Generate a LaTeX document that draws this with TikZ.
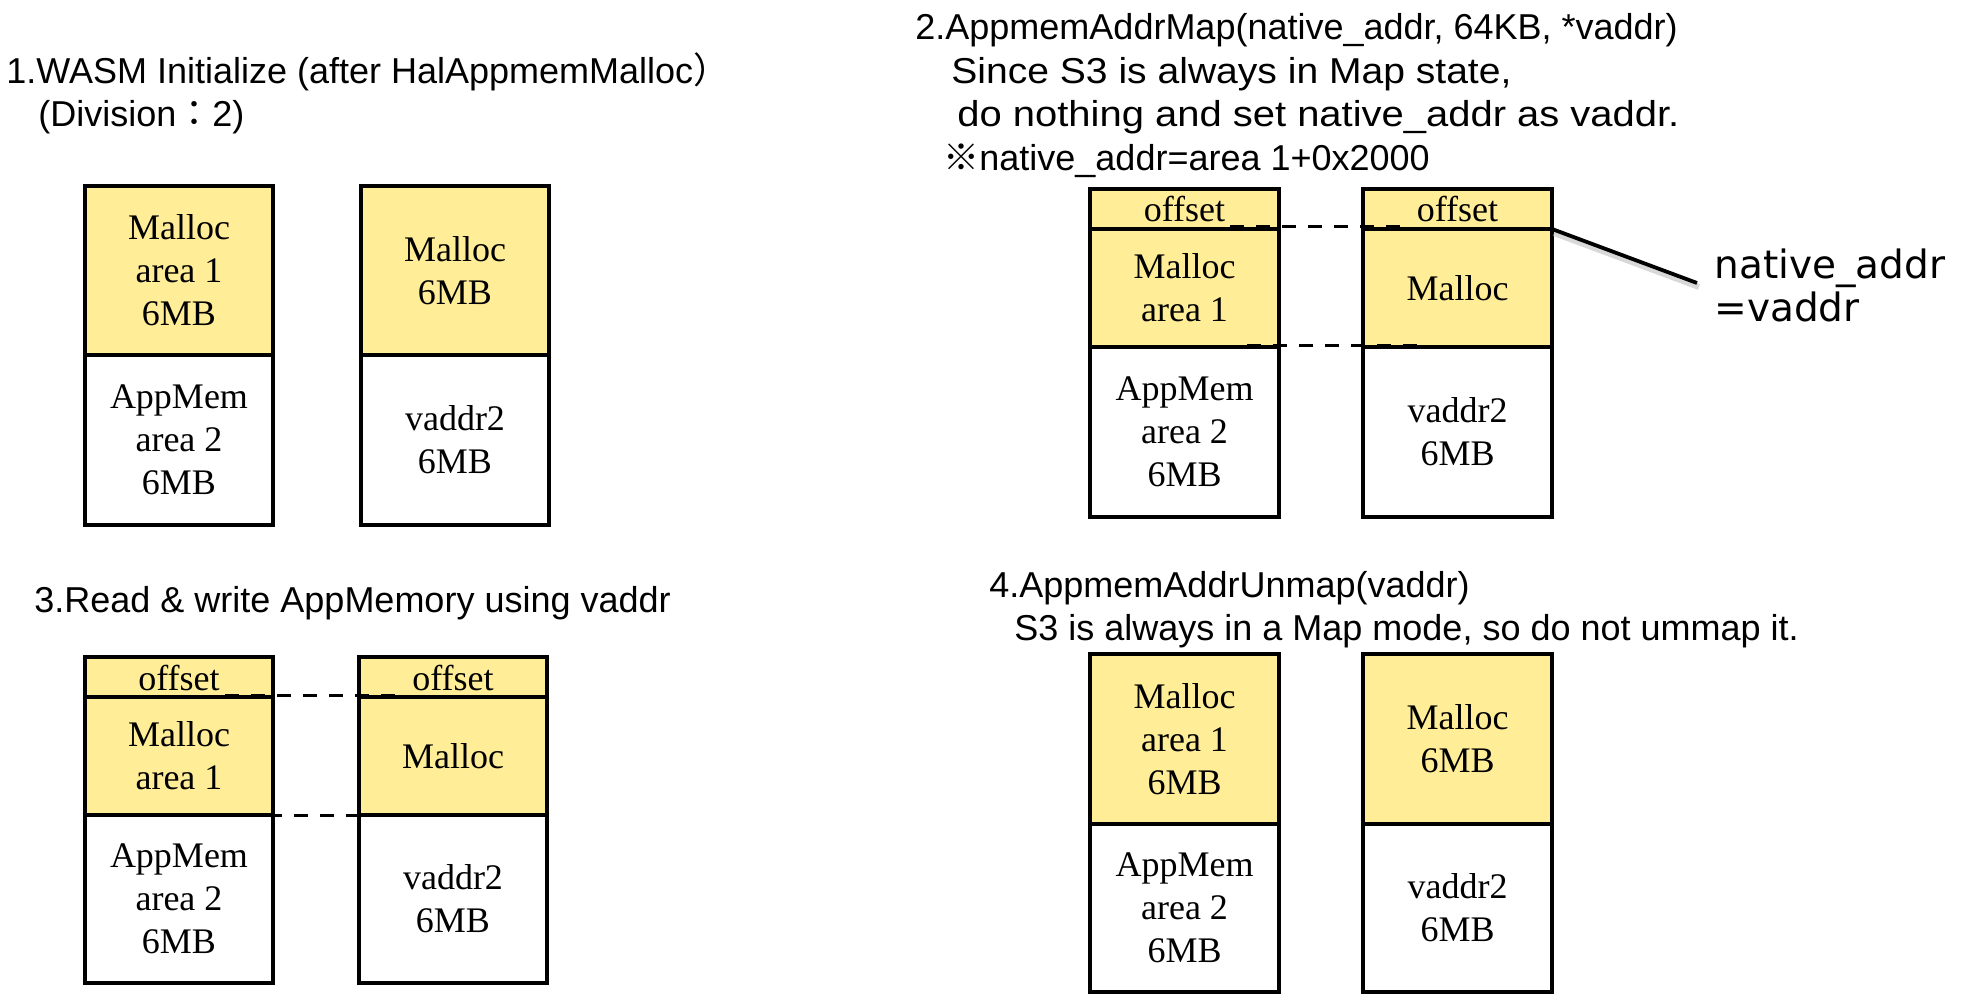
\documentclass[tikz,border=0pt]{standalone}
\usepackage{fontspec}
\usepackage{graphicx}
\setmainfont{Liberation Serif}
\newfontfamily\arial{Liberation Sans}
\newfontfamily\dvs{DejaVu Sans}
\newfontfamily\cjk{Noto Sans CJK JP}
\definecolor{memyel}{RGB}{255,237,151}
\begin{document}
\begin{tikzpicture}[x=0.5pt,y=-0.5pt,
  title/.style={font=\arial\fontsize{18}{21.5}\selectfont, anchor=base west, inner sep=0pt},
  boxtxt/.style={font=\fontsize{18}{21.5}\selectfont, align=center, inner sep=0pt},
  memline/.style={line width=1.8pt, line join=miter},
  dashln/.style={line width=1.5pt, dash pattern=on 7pt off 6pt},
  lbl/.style={font=\dvs\fontsize{19.5}{21}\selectfont, anchor=base west, inner sep=0pt}]
\fill[white] (0,0) rectangle (1974,994);
\useasboundingbox (0,0) rectangle (1974,994);

% ---------- titles ----------
\node[title] (t1a) at (6,84) {1.WASM Initialize (after HalAppmemMalloc{\cjk ）}};
\node[title] (t1b) at (38,127) {(Division{\cjk ：}2)};
\node[title] (t3) at (34,612) {3.Read \& write AppMemory using vaddr};
\node[title] (t2a) at (915,40) {2.AppmemAddrMap(native\_addr, 64KB, *vaddr)};
\node[title] (t2b) at (951,83.5) {\scalebox{1.085}[1]{Since S3 is always in Map state,}};
\node[title] (t2c) at (957,127) {\scalebox{1.11}[1]{do nothing and set native\_addr as vaddr.}};
\node[title] (t2d) at (943,170.5) {{\cjk ※}native\_addr=area 1+0x2000};
\node[title] (t4a) at (989,597) {4.AppmemAddrUnmap(vaddr)};
\node[title] (t4b) at (1014,640) {S3 is always in a Map mode, so do not ummap it.};

% ---------- diagram 1 ----------
\fill[memyel] (85,186) rectangle (273,355);
\fill[memyel] (361,186) rectangle (549,355);
\draw[memline] (85,186) rectangle (273,525) (85,355) -- (273,355);
\draw[memline] (361,186) rectangle (549,525) (361,355) -- (549,355);
\node[boxtxt] (d1a) at (179,270.5) {Malloc\\area 1\\6MB};
\node[boxtxt] (d1b) at (179,440) {AppMem\\area 2\\6MB};
\node[boxtxt] (d1c) at (455,270.5) {Malloc\\6MB};
\node[boxtxt] (d1d) at (455,440) {vaddr2\\6MB};

% ---------- diagram 3 ----------
\fill[memyel] (85,657) rectangle (273,815);
\fill[memyel] (359,657) rectangle (547,815);
\draw[memline] (85,657) rectangle (273,983) (85,697) -- (273,697) (85,815) -- (273,815);
\draw[memline] (359,657) rectangle (547,983) (359,697) -- (547,697) (359,815) -- (547,815);
\node[boxtxt, anchor=base] (d3o1) at (179,690) {offset};
\node[boxtxt, anchor=base] (d3o2) at (453,690) {offset};
\node[boxtxt] (d3a) at (179,756) {Malloc\\area 1};
\node[boxtxt] (d3c) at (453,756) {Malloc};
\node[boxtxt] (d3b) at (179,899) {AppMem\\area 2\\6MB};
\node[boxtxt] (d3d) at (453,899) {vaddr2\\6MB};
\coordinate (d3u1) at (225,695);
\coordinate (d3u2) at (402,695);
\coordinate (d3l1) at (242,815);
\coordinate (d3l2) at (419,815);
\draw[dashln] (d3u1) -- (d3u2);
\draw[dashln] (d3l1) -- (d3l2);

% ---------- diagram 2 ----------
\fill[memyel] (1090,189) rectangle (1279,347);
\fill[memyel] (1363,189) rectangle (1552,347);
\draw[memline] (1090,189) rectangle (1279,517) (1090,229) -- (1279,229) (1090,347) -- (1279,347);
\draw[memline] (1363,189) rectangle (1552,517) (1363,229) -- (1552,229) (1363,347) -- (1552,347);
\node[boxtxt, anchor=base] (d2o1) at (1184.5,222) {offset};
\node[boxtxt, anchor=base] (d2o2) at (1457.5,222) {offset};
\node[boxtxt] (d2a) at (1184.5,288) {Malloc\\area 1};
\node[boxtxt] (d2c) at (1457.5,288) {Malloc};
\node[boxtxt] (d2b) at (1184.5,432) {AppMem\\area 2\\6MB};
\node[boxtxt] (d2d) at (1457.5,432) {vaddr2\\6MB};
\coordinate (d2u1) at (1230,227);
\coordinate (d2u2) at (1407,227);
\coordinate (d2l1) at (1247,346);
\coordinate (d2l2) at (1424,346);
\draw[dashln] (d2u1) -- (d2u2);
\draw[dashln] (d2l1) -- (d2l2);
% pointer to label
\coordinate (pa) at (1552,229);
\coordinate (pb) at (1697,283);
\draw[line width=3pt, black!25, opacity=0.6] ([shift={(2,4)}]pa) -- ([shift={(2,4)}]pb);
\draw[line width=1.9pt] (pa) -- (pb);
\node[lbl] (na1) at (1714,279) {native\_addr};
\node[lbl] (na2) at (1714,322) {=vaddr};

% ---------- diagram 4 ----------
\fill[memyel] (1090,654) rectangle (1279,824);
\fill[memyel] (1363,654) rectangle (1552,824);
\draw[memline] (1090,654) rectangle (1279,992) (1090,824) -- (1279,824);
\draw[memline] (1363,654) rectangle (1552,992) (1363,824) -- (1552,824);
\node[boxtxt] (d4a) at (1184.5,739) {Malloc\\area 1\\6MB};
\node[boxtxt] (d4b) at (1184.5,908) {AppMem\\area 2\\6MB};
\node[boxtxt] (d4c) at (1457.5,739) {Malloc\\6MB};
\node[boxtxt] (d4d) at (1457.5,908) {vaddr2\\6MB};
\end{tikzpicture}
\end{document}
